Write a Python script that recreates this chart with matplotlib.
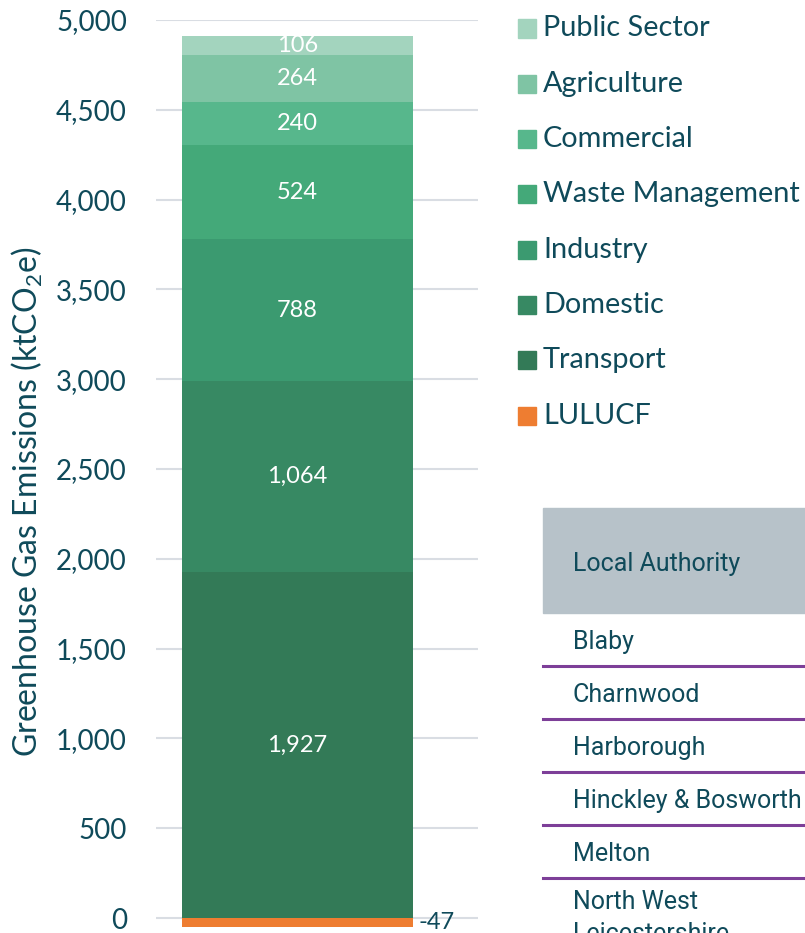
import matplotlib.pyplot as plt
from matplotlib.patches import Rectangle

plt.rcParams['font.family'] = ['Lato', 'DejaVu Sans']
plt.rcParams['mathtext.fontset'] = 'custom'
plt.rcParams['mathtext.rm'] = 'Lato'

# data
sectors = ["Transport", "Domestic", "Industry", "Waste Management",
           "Commercial", "Agriculture", "Public Sector"]
values = [1927, 1064, 788, 524, 240, 264, 106]
colours = ["#337A57", "#378963", "#3B9A70", "#44A979",
           "#57B78C", "#7FC4A4", "#A3D4BE"]
lulucf_value = -47
lulucf_colour = "#EE7D31"
authorities = ["Blaby", "Charnwood", "Harborough", "Hinckley & Bosworth",
               "Melton", "North West\nLeicestershire"]

text_col = "#0F4A5A"
W, H = 805, 933


def fx(x):
    return x / W


def fy(y):
    return 1 - y / H


fig = plt.figure(figsize=(W / 100, H / 100), dpi=100)
ax = fig.add_axes([fx(156), 0, (478 - 156) / W, (H - 20) / H])

bottom = 0
for name, v, c in zip(sectors, values, colours):
    bars = ax.bar(0, v, width=0.6, bottom=bottom, color=c, zorder=2)
    ax.bar_label(bars, labels=[f"{v:,}"], label_type='center',
                 color='white', fontsize=17)
    bottom += v

neg = ax.bar(0, lulucf_value, width=0.6, color=lulucf_colour, zorder=2)
ax.annotate(f"{lulucf_value}", (0.3, lulucf_value / 2), xytext=(4, 0),
            textcoords='offset points', va='center', ha='left',
            color=text_col, fontsize=17)

ax.set_xlim(-0.3675, 0.4688)
ax.set_ylim(-83, 5000)
ax.set_yticks(range(0, 5001, 500))
ax.set_yticklabels([f"{t:,}" for t in range(0, 5001, 500)])
ax.tick_params(axis='y', length=0, pad=21, labelsize=20, labelcolor=text_col)
ax.set_xticks([])
ax.grid(axis='y', color='#D9DDE3', linewidth=1.5, zorder=0)
for s in ax.spines.values():
    s.set_visible(False)

ax.set_ylabel(r"Greenhouse Gas Emissions (ktCO$_2$e)", fontsize=23,
              color=text_col)
ax.yaxis.set_label_coords(-0.345, 0.472)

# legend, top entry first
leg_names = sectors[::-1] + ["LULUCF"]
leg_cols = colours[::-1] + [lulucf_colour]
for i, (n, c) in enumerate(zip(leg_names, leg_cols)):
    yc = 28.5 + 55.3 * i
    fig.patches.append(Rectangle((fx(518), fy(yc + 9)), 18 / W, 18 / H,
                                 transform=fig.transFigure, color=c))
    fig.text(fx(543), fy(yc), n, va='center', ha='left', fontsize=20.8,
             color=text_col)

# partial table
tfont = 'Roboto'
fig.patches.append(Rectangle((fx(543), fy(613)), (W - 543) / W, 105 / H,
                             transform=fig.transFigure, color='#B7C2C9'))
fig.text(fx(573), fy(571), "Local Authority", va='baseline', ha='left',
         fontsize=18, color=text_col, family=tfont)
for i, a in enumerate(authorities):
    base = 649 + 53 * i
    lines = a.split("\n")
    if len(lines) > 1:
        base -= 5
    for j, ln in enumerate(lines):
        fig.text(fx(573), fy(base + 32 * j), ln, va='baseline', ha='left',
                 fontsize=18, color=text_col, family=tfont)
    if i < len(authorities) - 1:
        yl = 665.5 + 53.1 * i
        fig.add_artist(plt.Line2D([fx(543), 1], [fy(yl), fy(yl)],
                                  color='#7D3F98', linewidth=2.2,
                                  transform=fig.transFigure))

fig.savefig("out.png", dpi=100)
